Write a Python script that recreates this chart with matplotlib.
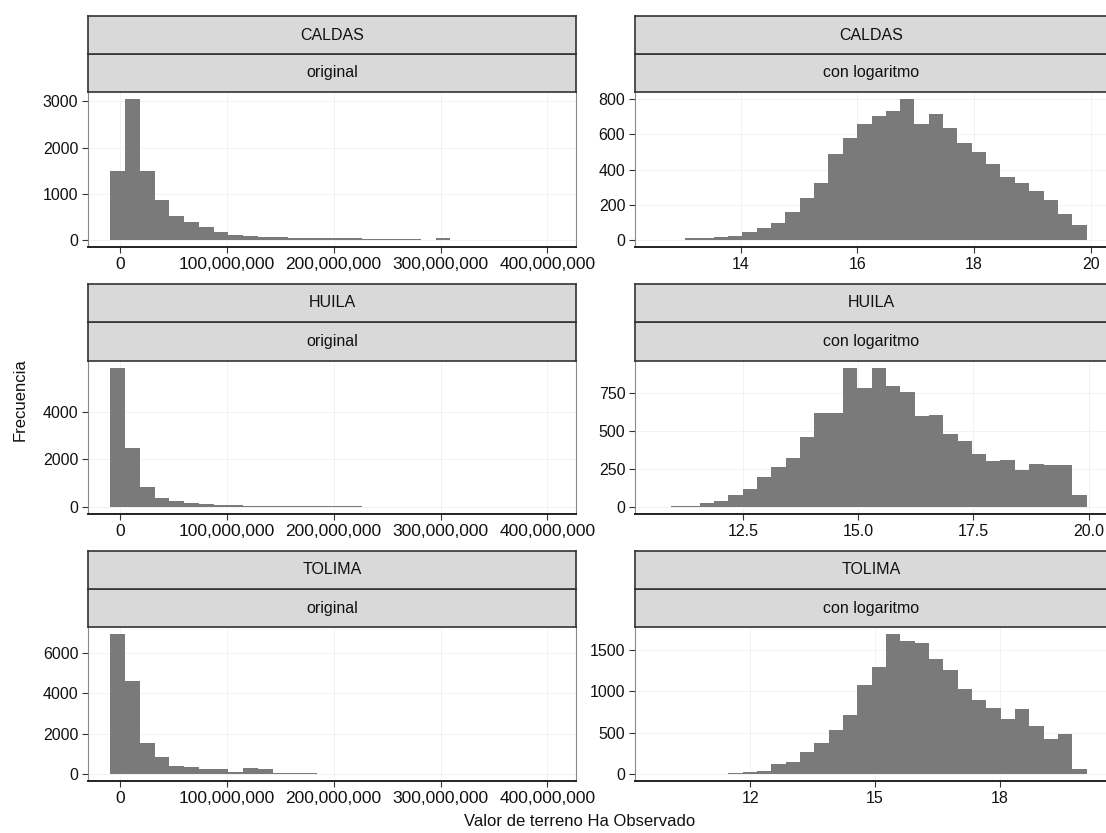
"""
Histogramas del valor de terreno por hectárea (CALDAS, HUILA, TOLIMA),
en escala original y con logaritmo, dibujados en una rejilla de 3x2.
"""

import numpy as np
import matplotlib.pyplot as plt
from matplotlib.ticker import FixedLocator, FuncFormatter

plt.rcParams['font.family'] = ['Liberation Sans', 'DejaVu Sans']

departments = ["CALDAS", "HUILA", "TOLIMA"]
transforms = ["original", "con logaritmo"]

# conteos por bin (30 bins, como geom_histogram por defecto)
caldas_original = [1490, 3050, 1490, 860, 510, 380, 270, 165, 110, 95,
                   65, 55, 50, 45, 40, 40, 35, 30, 20, 15,
                   10, 0, 40, 0, 0, 0, 0, 0, 0, 2]
huila_original = [5850, 2500, 830, 400, 260, 170, 115, 90, 70, 60,
                  50, 45, 40, 35, 30, 28, 25, 22, 20, 18,
                  16, 14, 12, 12, 10, 10, 8, 8, 6, 5]
tolima_original = [6950, 4600, 1550, 830, 420, 370, 250, 250, 85, 280,
                   250, 50, 30, 25, 20, 18, 12, 10, 8, 8,
                   6, 6, 20, 5, 5, 5, 5, 4, 18, 3]
caldas_log = [1, 1, 13, 13, 19, 23, 44, 67, 95, 158,
              238, 324, 486, 577, 657, 705, 733, 800, 661, 714,
              638, 552, 501, 429, 356, 324, 280, 229, 147, 86]
huila_log = [3, 10, 10, 28, 37, 82, 119, 199, 260, 325,
             459, 617, 617, 914, 779, 914, 797, 753, 595, 606,
             481, 433, 346, 303, 307, 242, 286, 277, 277, 82]
tolima_log = [1, 0, 0, 2, 5, 12, 20, 32, 119, 147,
              266, 369, 536, 715, 1072, 1290, 1690, 1600, 1585, 1390,
              1250, 1032, 893, 794, 663, 782, 584, 425, 488, 60]

# extremos de los bins (borde izquierdo del primero, derecho del último)
original_span = (-9e6, 406e6)
caldas_log_span = (12.56, 19.93)
huila_log_span = (10.63, 19.95)
tolima_log_span = (9.75, 20.09)

original_xticks = [0, 1e8, 2e8, 3e8, 4e8]
caldas_log_xticks = [14, 16, 18, 20]
huila_log_xticks = [12.5, 15.0, 17.5, 20.0]
tolima_log_xticks = [12, 15, 18]
caldas_log_xlabels = ["14", "16", "18", "20"]
huila_log_xlabels = ["12.5", "15.0", "17.5", "20.0"]
tolima_log_xlabels = ["12", "15", "18"]

caldas_original_yticks = [0, 1000, 2000, 3000]
huila_original_yticks = [0, 2000, 4000]
tolima_original_yticks = [0, 2000, 4000, 6000]
caldas_log_yticks = [0, 200, 400, 600, 800]
huila_log_yticks = [0, 250, 500, 750]
tolima_log_yticks = [0, 500, 1000, 1500]

W, H = 1106, 833
BAR = '#7a7a7a'
STRIP = '#d9d9d9'
DARK = '#333333'
TEXT = '#111111'


def px_axes(fig, left, top, right, bottom):
    return fig.add_axes([left / W, 1 - bottom / H,
                         (right - left) / W, (bottom - top) / H])


def draw_strip(ax, label):
    ax.set_facecolor(STRIP)
    ax.set_xticks([])
    ax.set_yticks([])
    for s in ax.spines.values():
        s.set_color(DARK)
        s.set_linewidth(1.2)
    ax.text(0.5, 0.5, label, transform=ax.transAxes, ha='center',
            va='center', fontsize=11.5, color=TEXT)


def draw_panel(ax, counts, span, xticks, xlabels, yticks):
    edges = np.linspace(span[0], span[1], len(counts) + 1)
    ax.stairs(counts, edges, fill=True, color=BAR, linewidth=0)
    pad = 0.05 * (span[1] - span[0])
    top = max(counts)
    ax.set_xlim(span[0] - pad, span[1] + pad)
    ax.set_ylim(-0.05 * top, 1.05 * top)
    ax.xaxis.set_major_locator(FixedLocator(xticks))
    if xlabels is None:
        # etiquetas largas con separador de miles
        ax.xaxis.set_major_formatter(FuncFormatter(lambda v, _: f"{v:,.0f}"))
        ax.tick_params(axis='x', labelsize=12.5)
    else:
        ax.set_xticklabels(xlabels)
        ax.tick_params(axis='x', labelsize=11.5)
    ax.yaxis.set_major_locator(FixedLocator(yticks))
    ax.grid(True, color='#f0f0f0', linewidth=0.6)
    ax.set_axisbelow(True)
    ax.tick_params(axis='y', labelsize=11.5)
    ax.tick_params(length=4, width=0.8, color=DARK, labelcolor=TEXT, pad=3)
    ax.spines['top'].set_visible(False)
    for side in ('left', 'right'):
        ax.spines[side].set_color('#8a8a8a')
    ax.spines['bottom'].set_color('#222222')
    ax.spines['bottom'].set_linewidth(1.4)


fig = plt.figure(figsize=(W / 100, H / 100), dpi=100)

columns = [(88, 576), (635, 1108)]
rows = [(16, 54, 92, 247), (284, 322, 361, 514), (551, 589, 627, 781)]

panels = [
    [(caldas_original, original_span, original_xticks, None, caldas_original_yticks),
     (caldas_log, caldas_log_span, caldas_log_xticks, caldas_log_xlabels, caldas_log_yticks)],
    [(huila_original, original_span, original_xticks, None, huila_original_yticks),
     (huila_log, huila_log_span, huila_log_xticks, huila_log_xlabels, huila_log_yticks)],
    [(tolima_original, original_span, original_xticks, None, tolima_original_yticks),
     (tolima_log, tolima_log_span, tolima_log_xticks, tolima_log_xlabels, tolima_log_yticks)],
]

for r, (t0, t1, t2, b) in enumerate(rows):
    for c, (x0, x1) in enumerate(columns):
        ax = px_axes(fig, x0, t2, x1, b)
        draw_panel(ax, *panels[r][c])
        draw_strip(px_axes(fig, x0, t1, x1, t2), transforms[c])
        draw_strip(px_axes(fig, x0, t0, x1, t1), departments[r])

fig.text(20 / W, 1 - 400 / H, "Frecuencia", rotation=90, ha='center',
         va='center', fontsize=12, color=TEXT)
fig.text(580 / W, 1 - 822 / H, "Valor de terreno Ha Observado",
         ha='center', va='center', fontsize=12, color=TEXT)

fig.savefig('out.png', dpi=100)
